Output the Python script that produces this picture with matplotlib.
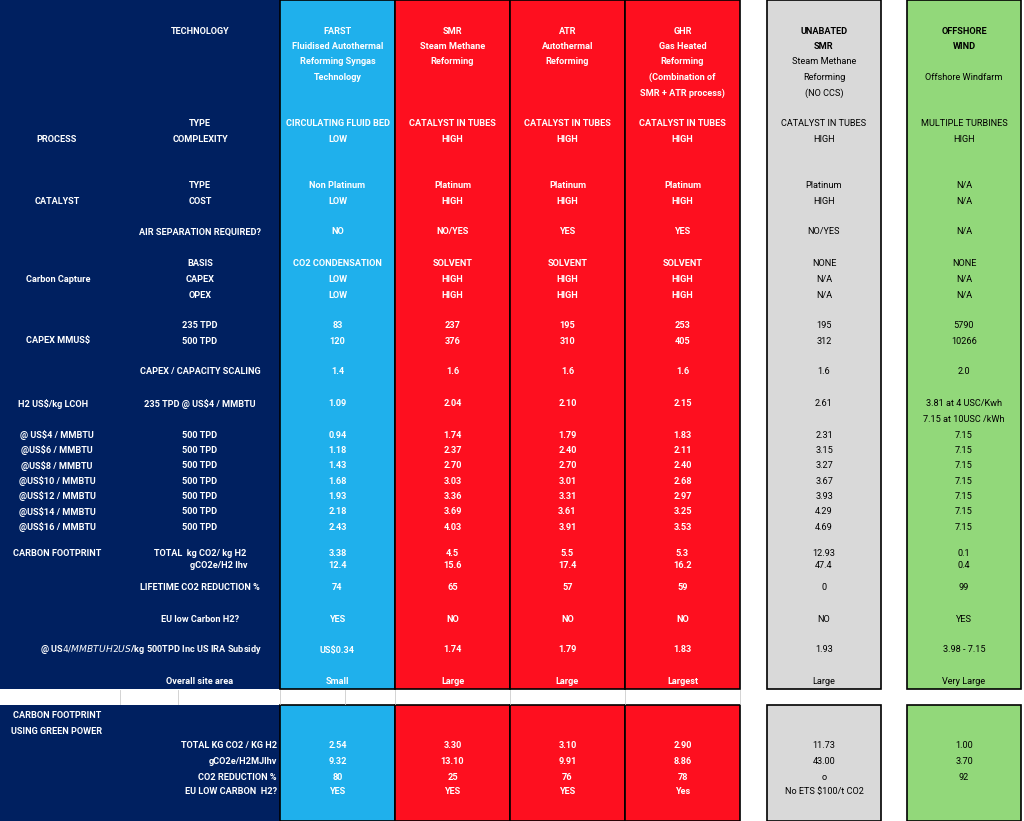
import matplotlib
matplotlib.use("Agg")
import matplotlib.pyplot as plt
from matplotlib.patches import Rectangle

plt.rcParams['font.family'] = ['Roboto', 'DejaVu Sans']

technologies = ["FARST", "SMR", "ATR", "GHR", "UNABATED SMR", "OFFSHORE WIND"]
header_lines = [
    ["FARST", "Fluidised Autothermal", "Reforming Syngas", "Technology"],
    ["SMR", "Steam Methane", "Reforming"],
    ["ATR", "Autothermal", "Reforming"],
    ["GHR", "Gas Heated", "Reforming", "(Combination of", "SMR + ATR process)"],
    ["UNABATED", "SMR", "Steam Methane", "Reforming", "(NO CCS)"],
    ["OFFSHORE", "WIND", "", "Offshore Windfarm"],
]
header_bold_count = [4, 3, 3, 5, 2, 2]

process_type = ["CIRCULATING FLUID BED", "CATALYST IN TUBES", "CATALYST IN TUBES", "CATALYST IN TUBES", "CATALYST IN TUBES", "MULTIPLE TURBINES"]
process_complexity = ["LOW", "HIGH", "HIGH", "HIGH", "HIGH", "HIGH"]
catalyst_type = ["Non Platinum", "Platinum", "Platinum", "Platinum", "Platinum", "N/A"]
catalyst_cost = ["LOW", "HIGH", "HIGH", "HIGH", "HIGH", "N/A"]
air_separation = ["NO", "NO/YES", "YES", "YES", "NO/YES", "N/A"]
cc_basis = ["CO2 CONDENSATION", "SOLVENT", "SOLVENT", "SOLVENT", "NONE", "NONE"]
cc_capex = ["LOW", "HIGH", "HIGH", "HIGH", "N/A", "N/A"]
cc_opex = ["LOW", "HIGH", "HIGH", "HIGH", "N/A", "N/A"]
capex_235 = ["83", "237", "195", "253", "195", "5790"]
capex_500 = ["120", "376", "310", "405", "312", "10266"]
capex_scaling = ["1.4", "1.6", "1.6", "1.6", "1.6", "2.0"]
lcoh_235 = ["1.09", "2.04", "2.10", "2.15", "2.61", "3.81 at 4 USC/Kwh"]
lcoh_235_b = ["", "", "", "", "", "7.15 at 10USC /kWh"]
gas_prices = ["@ US$4 / MMBTU", "@US$6 / MMBTU", "@US$8 / MMBTU", "@US$10 / MMBTU",
              "@US$12 / MMBTU", "@US$14 / MMBTU", "@US$16 / MMBTU"]
lcoh_500 = [
    ["0.94", "1.74", "1.79", "1.83", "2.31", "7.15"],
    ["1.18", "2.37", "2.40", "2.11", "3.15", "7.15"],
    ["1.43", "2.70", "2.70", "2.40", "3.27", "7.15"],
    ["1.68", "3.03", "3.01", "2.68", "3.67", "7.15"],
    ["1.93", "3.36", "3.31", "2.97", "3.93", "7.15"],
    ["2.18", "3.69", "3.61", "3.25", "4.29", "7.15"],
    ["2.43", "4.03", "3.91", "3.53", "4.69", "7.15"],
]
cf_total = ["3.38", "4.5", "5.5", "5.3", "12.93", "0.1"]
cf_gco2 = ["12.4", "15.6", "17.4", "16.2", "47.4", "0.4"]
lifetime_red = ["74", "65", "57", "59", "0", "99"]
eu_low = ["YES", "NO", "NO", "NO", "NO", "YES"]
ira_cost = ["US$0.34", "1.74", "1.79", "1.83", "1.93", "3.98 - 7.15"]
site_area = ["Small", "Large", "Large", "Largest", "Large", "Very Large"]
green_total = ["2.54", "3.30", "3.10", "2.90", "11.73", "1.00"]
green_gco2 = ["9.32", "13.10", "9.91", "8.86", "43.00", "3.70"]
green_red = ["80", "25", "76", "78", "o", "92"]
green_eu = ["YES", "YES", "YES", "Yes", "No ETS $100/t CO2", ""]

# layout
W, H = 1024, 821
col_x = [(280, 395), (395, 510), (510, 625), (625, 740), (767, 881), (907, 1021)]
col_color = ["#1FB0EC", "#FE0F1F", "#FE0F1F", "#FE0F1F", "#D9D9D9", "#92D87A"]
txt_color = ["white", "white", "white", "white", "black", "black"]
navy = "#002060"

fig = plt.figure(figsize=(W / 100, H / 100), dpi=100)
ax = fig.add_axes([0, 0, 1, 1])
ax.set_xlim(0, W)
ax.set_ylim(H, 0)
ax.axis("off")

for (y0, y1) in [(0, 689), (705, 821)]:
    ax.add_patch(Rectangle((0, y0), 280, y1 - y0, facecolor=navy, edgecolor="none"))
    for i, (x0, x1) in enumerate(col_x):
        ax.add_patch(Rectangle((x0, y0), x1 - x0, y1 - y0, facecolor=col_color[i],
                               edgecolor="black", linewidth=1.2))
# faint grid in the white strip
for gx in [120, 178, 280, 345, 395, 510, 625, 740]:
    ax.plot([gx, gx], [690, 704], color="#CCCCCC", lw=0.6)

FS = 6.6

def cell(i, y, s, bold=True):
    x = (col_x[i][0] + col_x[i][1]) / 2
    if i >= 4:
        bold = False if bold != "force" else True
    ax.text(x, y, s, ha="center", va="center", fontsize=FS, color=txt_color[i],
            fontweight="bold" if bold else "normal")

def row(y, vals):
    for i, v in enumerate(vals):
        cell(i, y, v)

def lab(x, y, s, ha="center"):
    ax.text(x, y, s, ha=ha, va="center", fontsize=FS, color="white", fontweight="bold",
            clip_on=True)

# headers
lab(200, 31, "TECHNOLOGY")
for i, lines in enumerate(header_lines):
    for k, s in enumerate(lines):
        cell(i, 31 + k * 15.5, s, bold="force" if k < header_bold_count[i] else False)

lab(57, 140, "PROCESS"); lab(200, 124, "TYPE"); lab(200, 140, "COMPLEXITY")
row(124, process_type); row(140, process_complexity)
lab(57, 201, "CATALYST"); lab(200, 186, "TYPE"); lab(200, 201, "COST")
row(186, catalyst_type); row(201, catalyst_cost)
lab(200, 232, "AIR SEPARATION REQUIRED?"); row(232, air_separation)
lab(58, 279, "Carbon Capture"); lab(200, 264, "BASIS"); lab(200, 279, "CAPEX"); lab(200, 295, "OPEX")
row(264, cc_basis); row(279, cc_capex); row(295, cc_opex)
lab(58, 341, "CAPEX MMUS$"); lab(200, 326, "235 TPD"); lab(200, 341, "500 TPD")
row(326, capex_235); row(341, capex_500)
lab(200, 372, "CAPEX / CAPACITY SCALING"); row(372, capex_scaling)
lab(18, 404, "H2 US$/kg LCOH", ha="left"); lab(200, 404, "235 TPD @ US$4 / MMBTU")
row(404, lcoh_235); row(419, lcoh_235_b)
for k, (gp, vals) in enumerate(zip(gas_prices, lcoh_500)):
    y = 435 + k * 15.35
    lab(57, y, gp); lab(200, y, "500 TPD"); row(y, vals)
lab(57, 554, "CARBON FOOTPRINT"); lab(200, 554, "TOTAL  kg CO2/ kg H2")
lab(248, 566, "gCO2e/H2 lhv", ha="right")
row(553, cf_total); row(566, cf_gco2)
lab(200, 588, "LIFETIME CO2 REDUCTION %"); row(588, lifetime_red)
lab(200, 619, "EU low Carbon H2?"); row(619, eu_low)
lab(40, 650, "@ US$4 / MMBTU  H2 US$/kg 500TPD Inc US IRA Subsidy", ha="left")
ax.texts[-1].set_clip_box(None)
row(650, ira_cost)
lab(200, 681, "Overall site area"); row(681, site_area)

lab(57, 716, "CARBON FOOTPRINT"); lab(57, 731, "USING GREEN POWER")
for y, s, vals in [(746, "TOTAL KG CO2 / KG H2", green_total), (762, "gCO2e/H2MJlhv", green_gco2),
                   (777, "CO2 REDUCTION %", green_red), (792, "EU LOW CARBON  H2?", green_eu)]:
    lab(277, y, s, ha="right"); row(y, vals)

# clip the long IRA label at the navy column edge
from matplotlib.transforms import Bbox
for t in ax.texts:
    if t.get_text().startswith("@ US$4 / MMBTU  H2"):
        clip = Rectangle((0, 600), 279, 80, transform=ax.transData, visible=False)
        ax.add_patch(clip)
        t.set_clip_path(clip)
        t.set_clip_on(True)

fig.savefig("out.png", dpi=100)
